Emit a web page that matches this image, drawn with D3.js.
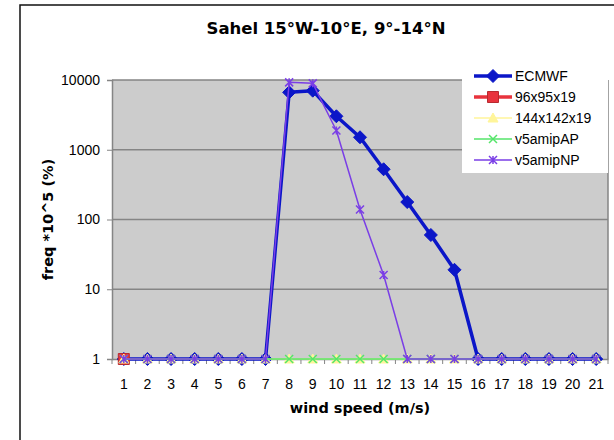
<!DOCTYPE html>
<html>
<head>
<meta charset="utf-8">
<script src="https://cdn.jsdelivr.net/npm/d3@7"></script>
<style>
  body { margin: 0; background: #fff; }
  text { font-family: "DejaVu Sans", Verdana, sans-serif; }
</style>
</head>
<body>
<div id="chart-area"></div>
<script>
// data
var windSpeed = [1,2,3,4,5,6,7,8,9,10,11,12,13,14,15,16,17,18,19,20,21];
var ecmwf    = [1,1,1,1,1,1,1,6650,7030,3020,1510,525,178,60,19,1,1,1,1,1,1];
var res96    = [1,null,null,null,null,null,null,null,null,null,null,null,null,null,null,null,null,null,null,null,null];
var res144   = [1,1,1,1,1,1,1,1,1,1,1,1,1,1,1,1,1,1,1,1,1];
var amipAP   = [1,1,1,1,1,1,1,1,1,1,1,1,1,1,1,1,1,1,1,1,1];
var amipNP   = [1,1,1,1,1,1,1,9250,8950,1890,139,16,1,1,1,1,1,1,1,1,1];
var seriesNames = ["ECMWF", "96x95x19", "144x142x19", "v5amipAP", "v5amipNP"];
var yTicks = [1, 10, 100, 1000, 10000];

var width = 614, height = 440;
var plot = { left: 112, right: 608, top: 80, bottom: 359 };
var tickFont = "Liberation Sans, Arial, sans-serif";

var svg = d3.select("#chart-area")
    .append("svg")
    .attr("width", width)
    .attr("height", height);

// outer frame (right and bottom are off the picture)
svg.append("rect")
    .attr("x", 20).attr("y", 5)
    .attr("width", 620).attr("height", 460)
    .attr("fill", "#fff")
    .attr("stroke", "#111")
    .attr("stroke-width", 1.5);

// Scales
var x = d3.scaleBand()
    .domain(windSpeed)
    .range([plot.left, plot.right]);
var y = d3.scaleLog()
    .domain([1, 10000])
    .range([plot.bottom, plot.top]);

// plot background
svg.append("rect")
    .attr("x", plot.left).attr("y", plot.top)
    .attr("width", plot.right - plot.left)
    .attr("height", plot.bottom - plot.top)
    .attr("fill", "#cccccc");

// gridlines
svg.append("g").selectAll("line")
    .data(yTicks.slice(1))
    .enter().append("line")
    .attr("x1", plot.left).attr("x2", plot.right)
    .attr("y1", function(d){ return y(d); })
    .attr("y2", function(d){ return y(d); })
    .attr("stroke", "#858585")
    .attr("stroke-width", 1.5);

// right border of plot
svg.append("line")
    .attr("x1", plot.right).attr("x2", plot.right)
    .attr("y1", plot.top).attr("y2", plot.bottom)
    .attr("stroke", "#858585").attr("stroke-width", 1.5);

// Y Axis
var yAxisCall = d3.axisLeft(y)
    .tickValues(yTicks)
    .tickFormat(d3.format("d"))
    .tickSize(5)
    .tickPadding(7);
var yAxis = svg.append("g")
    .attr("transform", "translate(" + plot.left + ",0)")
    .call(yAxisCall);
yAxis.select(".domain").attr("stroke", "#858585").attr("stroke-width", 1.5);
yAxis.selectAll(".tick line").attr("stroke", "#858585");
yAxis.selectAll("text").attr("font-size", "14px").attr("fill", "#000")
    .style("font-family", tickFont);

// X Axis
var xAxisCall = d3.axisBottom(x)
    .tickSize(0)
    .tickPadding(20);
var xAxis = svg.append("g")
    .attr("transform", "translate(0," + plot.bottom + ")")
    .call(xAxisCall);
xAxis.select(".domain").attr("stroke", "#858585").attr("stroke-width", 1.5);
xAxis.selectAll("text").attr("font-size", "14px").attr("fill", "#000")
    .style("font-family", tickFont);

// x ticks between categories
svg.append("g").selectAll("line")
    .data(windSpeed.concat([null]))
    .enter().append("line")
    .attr("x1", function(d, i){ return plot.left + i * x.step(); })
    .attr("x2", function(d, i){ return plot.left + i * x.step(); })
    .attr("y1", plot.bottom)
    .attr("y2", plot.bottom + 5)
    .attr("stroke", "#858585");

// Labels
svg.append("text")
    .attr("x", 326).attr("y", 34)
    .attr("text-anchor", "middle")
    .attr("font-size", "16.5px")
    .attr("font-weight", "bold")
    .text("Sahel 15°W-10°E, 9°-14°N");
svg.append("text")
    .attr("x", (plot.left + plot.right) / 2).attr("y", 413)
    .attr("text-anchor", "middle")
    .attr("font-size", "14.5px")
    .attr("font-weight", "bold")
    .text("wind speed (m/s)");
svg.append("text")
    .attr("transform", "translate(53," + (plot.top + plot.bottom) / 2 + ") rotate(-90)")
    .attr("text-anchor", "middle")
    .attr("font-size", "14.5px")
    .attr("font-weight", "bold")
    .text("freq *10^5 (%)");

// markers
function markerPath(kind, s) {
    if (kind === "diamond") return "M0," + (-s) + "L" + s + ",0L0," + s + "L" + (-s) + ",0Z";
    if (kind === "square") return "M" + (-s) + "," + (-s) + "h" + 2*s + "v" + 2*s + "h" + (-2*s) + "Z";
    if (kind === "triangle") return "M0," + (-s) + "L" + s + "," + (s*0.8) + "L" + (-s) + "," + (s*0.8) + "Z";
    if (kind === "x") return "M" + (-s) + "," + (-s) + "L" + s + "," + s + "M" + (-s) + "," + s + "L" + s + "," + (-s);
    // star: x plus vertical bar
    return "M" + (-s) + "," + (-s) + "L" + s + "," + s + "M" + (-s) + "," + s + "L" + s + "," + (-s) + "M0," + (-s) + "V" + s;
}

var series = [
    { name: seriesNames[0], values: ecmwf,  color: "#0b16c8", lw: 3.5, marker: "diamond",  ms: 6.5, fill: true },
    { name: seriesNames[1], values: res96,  color: "#e8333d", lw: 3.5, marker: "square",   ms: 5.5, fill: true, stroke: "#b82a30" },
    { name: seriesNames[2], values: res144, color: "#fff59a", lw: 1.5, marker: "triangle", ms: 5,   fill: true },
    { name: seriesNames[3], values: amipAP, color: "#55e56a", lw: 1.5, marker: "x",        ms: 4,   fill: false },
    { name: seriesNames[4], values: amipNP, color: "#7a3ee6", lw: 1.5, marker: "star",     ms: 4,   fill: false }
];

var line = d3.line()
    .defined(function(d){ return d.v !== null; })
    .x(function(d){ return x(d.k) + x.bandwidth() / 2; })
    .y(function(d){ return y(d.v); });

series.forEach(function(s){
    var pts = windSpeed.map(function(k, i){ return { k: k, v: s.values[i] }; });
    var g = svg.append("g");
    g.append("path")
        .datum(pts)
        .attr("fill", "none")
        .attr("stroke", s.color)
        .attr("stroke-width", s.lw)
        .attr("stroke-linejoin", "round")
        .attr("d", line);
    g.selectAll("path.m")
        .data(pts.filter(function(d){ return d.v !== null; }))
        .enter().append("path")
        .attr("class", "m")
        .attr("transform", function(d){
            return "translate(" + (x(d.k) + x.bandwidth() / 2) + "," + y(d.v) + ")";
        })
        .attr("d", markerPath(s.marker, s.ms))
        .attr("fill", s.fill ? s.color : "none")
        .attr("stroke", s.stroke || s.color)
        .attr("stroke-width", s.fill ? 1 : 1.5);
});

// Legend
var legend = svg.append("g");
legend.append("rect")
    .attr("x", 462).attr("y", 66)
    .attr("width", 146).attr("height", 107)
    .attr("fill", "#fff");
series.forEach(function(s, i){
    var ly = 76 + i * 21;
    legend.append("line")
        .attr("x1", 474).attr("x2", 512)
        .attr("y1", ly).attr("y2", ly)
        .attr("stroke", s.color)
        .attr("stroke-width", s.lw);
    legend.append("path")
        .attr("transform", "translate(493," + ly + ")")
        .attr("d", markerPath(s.marker, s.ms))
        .attr("fill", s.fill ? s.color : "none")
        .attr("stroke", s.stroke || s.color)
        .attr("stroke-width", s.fill ? 1 : 1.5);
    legend.append("text")
        .attr("x", 515).attr("y", ly + 5)
        .attr("font-size", "14px")
        .style("font-family", tickFont)
        .text(s.name);
});
</script>
</body>
</html>
